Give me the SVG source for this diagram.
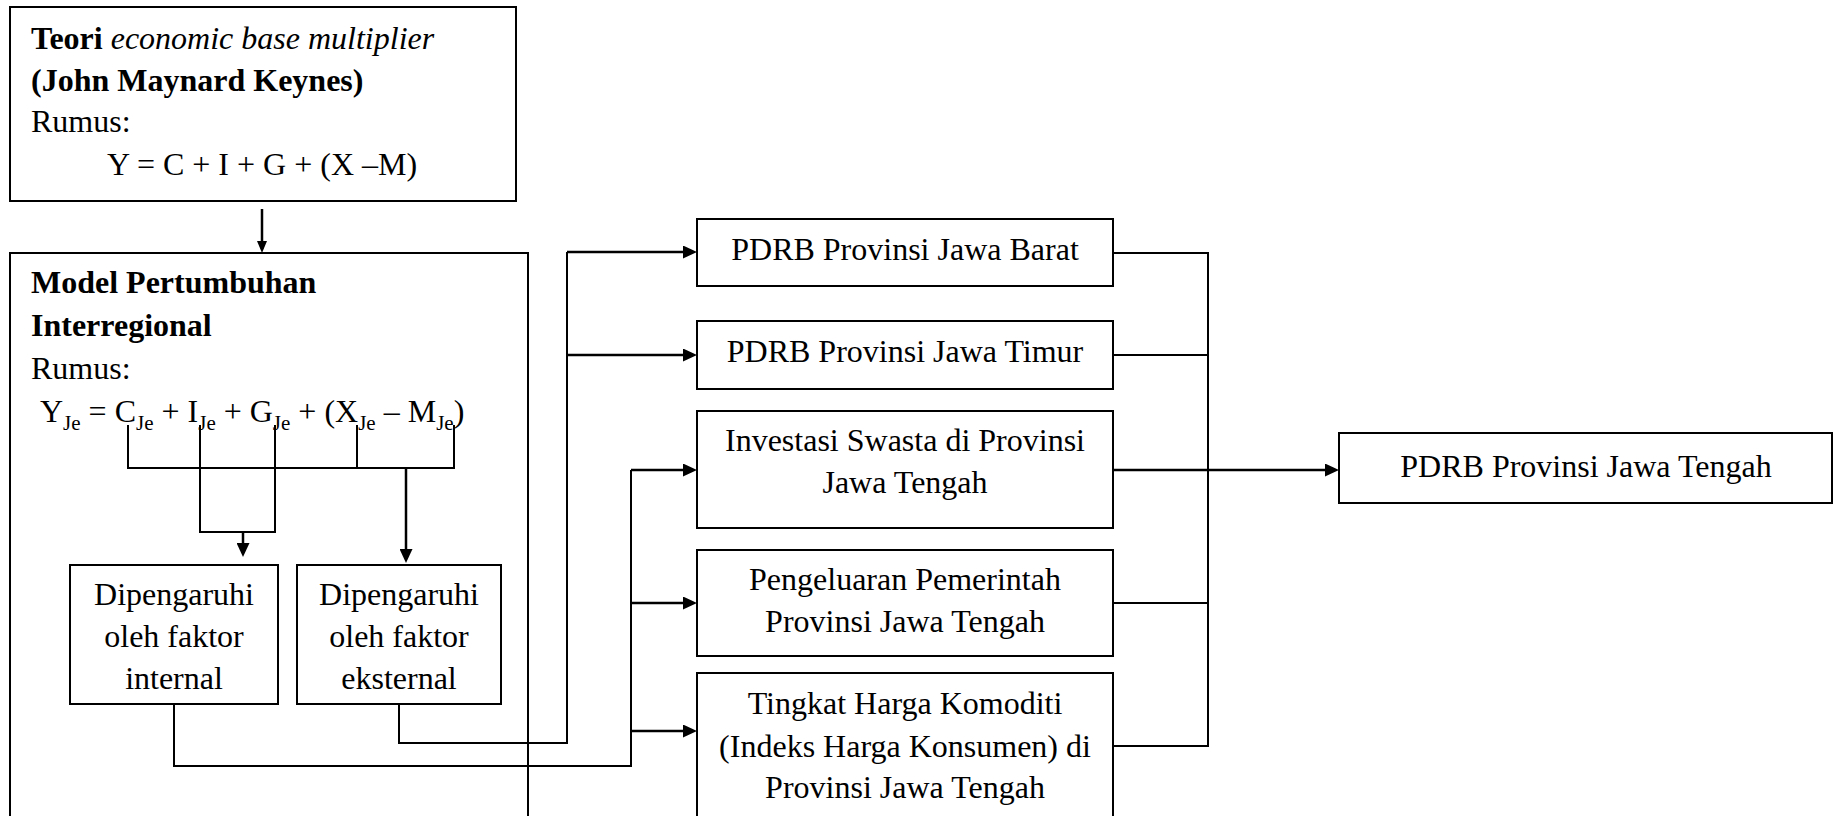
<svg xmlns="http://www.w3.org/2000/svg" width="1834" height="816" viewBox="0 0 1834 816">
  <style>
    .box { fill: #ffffff; stroke: #000000; stroke-width: 2; }
    .t { font-family: "Liberation Serif", "Times New Roman", serif; font-size: 32px; fill: #000000; }
    .c { text-anchor: middle; }
    .b { font-weight: bold; }
    .i { font-style: italic; }
    .sub { font-size: 21px; }
    .ln { fill: none; stroke: #000000; stroke-width: 2; }
    .ar { fill: none; stroke: #000000; stroke-width: 2.5; }
  </style>
  <defs>
    <marker id="arr" viewBox="0 0 14 13" refX="10" refY="6.5" markerWidth="14" markerHeight="13" markerUnits="userSpaceOnUse" orient="auto">
      <path d="M0,0 L14,6.5 L0,13 z" fill="#000000"/>
    </marker>
    <marker id="arrS" viewBox="0 0 12 10" refX="8" refY="5" markerWidth="12" markerHeight="10" markerUnits="userSpaceOnUse" orient="auto">
      <path d="M0,0 L12,5 L0,10 z" fill="#000000"/>
    </marker>
  </defs>
  <rect width="1834" height="816" fill="#ffffff"/>

  <g id="teori">
    <rect class="box" x="10" y="7" width="506" height="194"/>
    <text class="t" x="31" y="49"><tspan class="b">Teori </tspan><tspan class="i">economic base multiplier</tspan></text>
    <text class="t b" x="31" y="91">(John Maynard Keynes)</text>
    <text class="t" x="31" y="132">Rumus:</text>
    <text class="t" x="107" y="175">Y = C + I + G + (X –M)</text>
  </g>

  <g id="model">
    <rect class="box" x="10" y="253" width="518" height="600"/>
    <text class="t b" x="31" y="293">Model Pertumbuhan</text>
    <text class="t b" x="31" y="336">Interregional</text>
    <text class="t" x="31" y="379">Rumus:</text>
    <text class="t" x="40" y="422">Y<tspan class="sub" dy="8">Je</tspan><tspan dy="-8"> = C</tspan><tspan class="sub" dy="8">Je</tspan><tspan dy="-8"> + I</tspan><tspan class="sub" dy="8">Je</tspan><tspan dy="-8"> + G</tspan><tspan class="sub" dy="8">Je</tspan><tspan dy="-8"> + (X</tspan><tspan class="sub" dy="8">Je</tspan><tspan dy="-8"> – M</tspan><tspan class="sub" dy="8">Je</tspan><tspan dy="-8">)</tspan></text>
  </g>

  <g id="internal">
    <rect class="box" x="70" y="565" width="208" height="139"/>
    <text class="t c" x="174" y="605">Dipengaruhi</text>
    <text class="t c" x="174" y="647">oleh faktor</text>
    <text class="t c" x="174" y="689">internal</text>
  </g>

  <g id="eksternal">
    <rect class="box" x="297" y="565" width="204" height="139"/>
    <text class="t c" x="399" y="605">Dipengaruhi</text>
    <text class="t c" x="399" y="647">oleh faktor</text>
    <text class="t c" x="399" y="689">eksternal</text>
  </g>

  <g id="jabar">
    <rect class="box" x="697" y="219" width="416" height="67"/>
    <text class="t c" x="905" y="260">PDRB Provinsi Jawa Barat</text>
  </g>

  <g id="jatim">
    <rect class="box" x="697" y="321" width="416" height="68"/>
    <text class="t c" x="905" y="362">PDRB Provinsi Jawa Timur</text>
  </g>

  <g id="investasi">
    <rect class="box" x="697" y="411" width="416" height="117"/>
    <text class="t c" x="905" y="451">Investasi Swasta di Provinsi</text>
    <text class="t c" x="905" y="493">Jawa Tengah</text>
  </g>

  <g id="pengeluaran">
    <rect class="box" x="697" y="550" width="416" height="106"/>
    <text class="t c" x="905" y="590">Pengeluaran Pemerintah</text>
    <text class="t c" x="905" y="632">Provinsi Jawa Tengah</text>
  </g>

  <g id="harga">
    <rect class="box" x="697" y="673" width="416" height="160"/>
    <text class="t c" x="905" y="714">Tingkat Harga Komoditi</text>
    <text class="t c" x="905" y="757">(Indeks Harga Konsumen) di</text>
    <text class="t c" x="905" y="798">Provinsi Jawa Tengah</text>
  </g>

  <g id="jateng">
    <rect class="box" x="1339" y="433" width="493" height="70"/>
    <text class="t c" x="1586" y="477">PDRB Provinsi Jawa Tengah</text>
  </g>

  <g id="connectors">
    <path class="ar" d="M262,209 V249" marker-end="url(#arrS)"/>
    <path class="ln" d="M128,425 V468 H454 V425 M357,425 V468"/>
    <path class="ln" d="M200,425 V532 H275 V425"/>
    <path class="ar" d="M243,532 V553" marker-end="url(#arr)"/>
    <path class="ar" d="M406,468 V559" marker-end="url(#arr)"/>
    <path class="ln" d="M399,704 V743 H567 V252"/>
    <path class="ar" d="M567,252 H693" marker-end="url(#arr)"/>
    <path class="ar" d="M567,355 H693" marker-end="url(#arr)"/>
    <path class="ln" d="M174,704 V766 H631 V470"/>
    <path class="ar" d="M631,470 H693" marker-end="url(#arr)"/>
    <path class="ar" d="M631,603 H693" marker-end="url(#arr)"/>
    <path class="ar" d="M631,731 H693" marker-end="url(#arr)"/>
    <path class="ln" d="M1113,253 H1208 V746 H1113 M1113,355 H1208 M1113,603 H1208"/>
    <path class="ar" d="M1113,470 H1335" marker-end="url(#arr)"/>
  </g>
</svg>
